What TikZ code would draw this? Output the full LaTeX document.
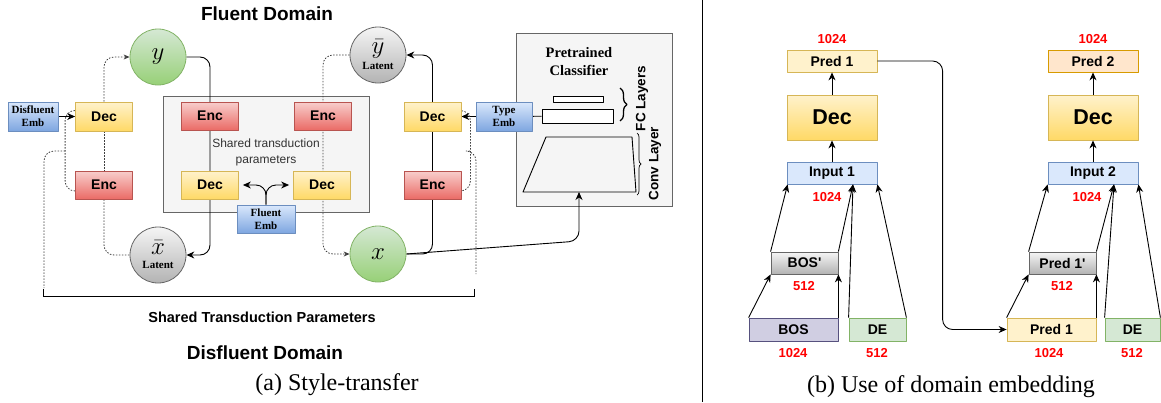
\documentclass[tikz,border=0pt]{standalone}
\usepackage{fontspec}
\setmainfont{Liberation Serif}
\setsansfont{Liberation Sans}
\usetikzlibrary{arrows.meta}
\usetikzlibrary{decorations.pathreplacing}
\pgfdeclarelayer{bg}
\pgfdeclarelayer{edges}
\pgfsetlayers{bg,edges,main}
\definecolor{ylwA}{HTML}{FFF2CC}
\definecolor{ylwB}{HTML}{FFD966}
\definecolor{ylwD}{HTML}{D6B656}
\definecolor{redA}{HTML}{F8CECC}
\definecolor{redB}{HTML}{EA6B66}
\definecolor{redD}{HTML}{B85450}
\definecolor{bluA}{HTML}{DAE8FC}
\definecolor{bluB}{HTML}{7EA6E0}
\definecolor{bluD}{HTML}{6C8EBF}
\definecolor{grnA}{HTML}{D5E8D4}
\definecolor{grnB}{HTML}{97D077}
\definecolor{grnD}{HTML}{82B366}
\definecolor{gryA}{HTML}{F5F5F5}
\definecolor{gryB}{HTML}{B3B3B3}
\definecolor{gryD}{HTML}{666666}
\definecolor{purA}{HTML}{D0CEE2}
\definecolor{purD}{HTML}{56517E}
\definecolor{orgA}{HTML}{FFE6CC}
\definecolor{orgD}{HTML}{D79B00}
\newcommand\sz[2]{\fontsize{#1pt}{#2pt}\selectfont}

\begin{document}
\begin{tikzpicture}[x=1pt, y=-1pt, % pixel coordinates, y runs downwards
                    line join=round,
                    every node/.style = {inner sep=0pt},
                    box/.style = {draw, line width=0.8pt, minimum width=57pt, minimum height=28pt,
                                  font=\sffamily\bfseries\sz{14}{16}},
                    dec/.style = {box, top color=ylwA, bottom color=ylwB, draw=ylwD},
                    enc/.style = {box, top color=redA, bottom color=redB, draw=redD},
                    emb/.style = {box, top color=bluA, bottom color=bluB, draw=bluD, align=center,
                                  font=\rmfamily\bfseries\sz{11}{13}},
                    circ/.style = {circle, draw, line width=0.8pt, minimum size=56pt, align=center,
                                   font=\rmfamily\bfseries\sz{11}{11}},
                    fluent/.style = {circ, top color=grnA, bottom color=grnB, draw=grnD},
                    latent/.style = {circ, top color=gryA, bottom color=gryB, draw=gryD},
                    pbox/.style = {draw, line width=0.8pt, minimum width=90pt, minimum height=22pt,
                                   font=\sffamily\bfseries\sz{14}{16}},
                    num/.style = {font=\sffamily\bfseries\sz{13}{14}, text=red},
                    conn/.style = {line width=0.9pt, rounded corners=10pt},
                    arr/.style = {conn, -{Stealth[length=8pt,width=7pt]}},
                    dots/.style = {conn, draw=black!75, line width=0.8pt, dash pattern=on 1.5pt off 1.5pt}
                   ]
  \useasboundingbox (0,0) rectangle (1161,402);

  % (a) style transfer
  \begin{pgfonlayer}{bg}
    \draw[draw=gryD, fill=gryA, line width=0.8pt] (163,96) rectangle (369,212);
    \draw[draw=gryD, fill=gryA, line width=0.8pt] (516,33) rectangle (672,206);
  \end{pgfonlayer}
  \node[font=\sffamily\bfseries\sz{19}{22}] (fdom) at (267,14) {Fluent Domain};
  \node[font=\sffamily\sz{12}{16}, text=black!80, align=center] (shtxt) at (266,152) {Shared transduction\\parameters};

  \node[emb, minimum width=50pt, minimum height=29pt] (demb) at (33,116.5) {Disfluent\\Emb};
  \node[dec, minimum height=29pt] (decl) at (104,116.5) {Dec};
  \node[enc] (encl) at (104,185) {Enc};
  \node[enc] (encsl) at (210,116) {Enc};
  \node[enc] (encsr) at (323,116) {Enc};
  \node[dec] (decsl) at (210,185) {Dec};
  \node[dec] (decsr) at (322,185) {Dec};
  \node[emb, minimum width=58pt] (femb) at (266,219) {Fluent\\Emb};
  \node[dec, minimum height=29pt] (decr) at (432.5,116.5) {Dec};
  \node[enc] (encr) at (432.5,185) {Enc};
  \node[emb, minimum width=56pt, minimum height=29pt] (temb) at (504,116.5) {Type\\Emb};

  \node[fluent] (y) at (158,57) {{\sz{23}{16}$y$}};
  \node[latent] (xbar) at (158,255) {{\sz{23}{16}$\bar{x}$}\\[3pt]Latent};
  \node[latent] (ybar) at (378,55) {{\sz{23}{16}$\bar{y}$}\\[3pt]Latent};
  \node[fluent] (x) at (378,254) {{\sz{23}{16}$x$}};

  % classifier
  \node[font=\rmfamily\bfseries\sz{14.5}{18}, align=center] (clf) at (579,62) {Pretrained\\Classifier};
  \node[draw, fill=white, line width=0.8pt, minimum width=50pt, minimum height=6pt] (fc1) at (578,99) {};
  \node[draw, fill=white, line width=0.8pt, minimum width=71pt, minimum height=14pt] (fc2) at (577.5,116) {};
  \draw[line width=0.9pt] (546,137) -- (632,137) -- (636,192) -- (523,192) -- cycle;
  \coordinate (convin) at (579,192);
  \draw[decorate, decoration={brace, amplitude=7pt}, line width=1.3pt] (620,88) -- (620,121);
  \draw[decorate, decoration={brace, amplitude=4pt}, line width=0.7pt] (637,133) -- (637,195);
  \node[rotate=90, font=\sffamily\bfseries\sz{13.5}{14}] (fclab) at (642,98.5) {FC Layers};
  \node[rotate=90, font=\sffamily\bfseries\sz{13.5}{14}] (cvlab) at (655,163.5) {Conv Layer};

  \node[font=\sffamily\bfseries\sz{14.5}{16}] (shlab) at (262,317) {Shared Transduction Parameters};
  \node[font=\sffamily\bfseries\sz{19}{22}] (ddom) at (265,353) {Disfluent Domain};
  \node[font=\rmfamily\sz{24}{28}] (capa) at (337,385) {(a) Style-transfer};

  \begin{pgfonlayer}{edges}
    \draw[arr] (demb) -- (decl);
    \draw[dots, -{Stealth[length=6pt,width=5pt]}] (decl.north) |- (y.west);
    \draw[dots] (decl) -- (encl);
    \draw[dots] (encl.south) |- (xbar.west);
    \draw[arr] (y.east) -| (encsl.center) |- (xbar.east);
    \draw[dots, -{Stealth[length=6pt,width=5pt]}] (ybar.west) -| (encsr.center) |- (x.west);
    \draw[arr] (x.east) -| (encr.center) |- (ybar.east);
    \draw[arr] (x.east) -- (579,241) -- (convin);
    \draw[arr, shorten >=4pt] (femb.north) |- (decsl.east);
    \draw[arr, shorten >=4pt] (femb.north) |- (decsr.west);
    \draw[arr] (temb) -- (decr);
    \draw[conn] (temb) -- (fc2);
    % loops down to the bracket
    \draw[dots] ([yshift=-6pt]encl.west) -- ++(-10,0) |- ([yshift=6pt]decl.west);
    \draw[dots] (65,151) -- (44,151) -- (44,288);
    \draw[dots] ([yshift=-6pt]encr.east) -- ++(9,0) |- ([yshift=6pt]decr.east);
    \draw[dots] (470,151) -- (476,151) -- (476,274);
    \draw[line width=0.9pt] (43,289) -- (43,296) -- (474,296) -- (474,289);
  \end{pgfonlayer}

  \draw[line width=0.8pt] (702,0) -- (702,402);

  % (b) domain embedding
  \node[pbox, fill=ylwA, draw=ylwD] (pa) at (832,61) {Pred 1};
  \node[pbox, top color=ylwA, bottom color=ylwB, draw=ylwD, minimum height=45pt,
        font=\sffamily\bfseries\sz{21.5}{24}] (da) at (832,117.5) {Dec};
  \node[pbox, fill=bluA, draw=bluD] (ia) at (832,173) {Input 1};
  \node[pbox, top color=gryA, bottom color=gryB, draw=gryD, minimum width=67pt] (bp) at (804.5,263) {BOS\textquotesingle};
  \node[pbox, fill=purA, draw=purD, minimum width=89pt, minimum height=23pt] (bos) at (793.5,329.5) {BOS};
  \node[pbox, fill=grnA, draw=grnD, minimum width=57pt, minimum height=23pt] (dea) at (877.5,329.5) {DE};

  \node[pbox, fill=orgA, draw=orgD] (pc) at (1093,61) {Pred 2};
  \node[pbox, top color=ylwA, bottom color=ylwB, draw=ylwD, minimum height=45pt,
        font=\sffamily\bfseries\sz{21.5}{24}] (db) at (1093,117.5) {Dec};
  \node[pbox, fill=bluA, draw=bluD] (ib) at (1093,173) {Input 2};
  \node[pbox, top color=gryA, bottom color=gryB, draw=gryD, minimum width=67pt] (pp) at (1062.5,263) {Pred 1\textquotesingle};
  \node[pbox, fill=ylwA, draw=ylwD, minimum width=89pt, minimum height=23pt] (pb) at (1051.5,329.5) {Pred 1};
  \node[pbox, fill=grnA, draw=grnD, minimum width=55pt, minimum height=23pt] (deb) at (1132.5,329.5) {DE};

  \node[num] (na1) at (832,39) {1024};
  \node[num] (na2) at (827,197) {1024};
  \node[num] (na3) at (804,286) {512};
  \node[num] (na4) at (793,353) {1024};
  \node[num] (na5) at (877,353) {512};
  \node[num] (nb1) at (1093,39) {1024};
  \node[num] (nb2) at (1087,197) {1024};
  \node[num] (nb3) at (1062,286) {512};
  \node[num] (nb4) at (1049,353) {1024};
  \node[num] (nb5) at (1132,353) {512};
  \node[font=\rmfamily\sz{24}{28}] (capb) at (951,387) {(b) Use of domain embedding};

  \draw[arr] (da) -- (pa);
  \draw[arr] (ia) -- (da);
  \draw[arr] (bp.north west) -- ([xshift=1pt]ia.south west);
  \draw[arr] (bp.north east) -- ([xshift=21pt]ia.south);
  \draw[arr] (dea.north west) -- ([xshift=21pt]ia.south);
  \draw[arr] (dea.north east) -- (ia.south east);
  \draw[arr] (bos.north west) -- (bp.south west);
  \draw[arr] (bos.north east) -- (bp.south east);

  \draw[arr] (db) -- (pc);
  \draw[arr] (ib) -- (db);
  \draw[arr] (pp.north west) -- (ib.south west);
  \draw[arr] (pp.north east) -- ([xshift=21pt]ib.south);
  \draw[arr] (deb.north west) -- ([xshift=21pt]ib.south);
  \draw[arr] (deb.north east) -- (ib.south east);
  \draw[arr] (pb.north west) -- (pp.south west);
  \draw[arr] (pb.north east) -- (pp.south east);

  \draw[arr] (pa.east) -| ([xshift=-64pt]pb.west) -- (pb.west);
\end{tikzpicture}
\end{document}
